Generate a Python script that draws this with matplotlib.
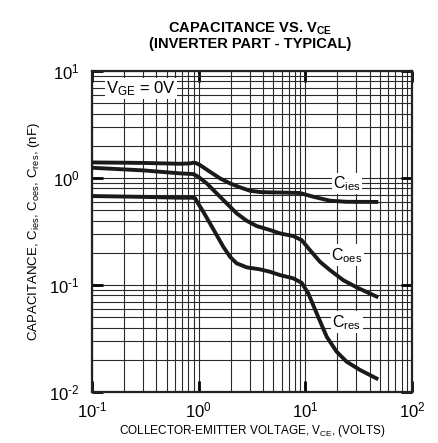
import numpy as np
import matplotlib.pyplot as plt
from matplotlib.ticker import LogLocator, NullFormatter, FuncFormatter

plt.rcParams['font.family'] = ['Liberation Sans', 'DejaVu Sans']
plt.rcParams['mathtext.fontset'] = 'custom'
plt.rcParams['mathtext.rm'] = 'Liberation Sans'
plt.rcParams['mathtext.it'] = 'Liberation Sans:italic'
plt.rcParams['mathtext.bf'] = 'Liberation Sans:bold'
plt.rcParams['axes.unicode_minus'] = False

# Valeurs (V_CE en volts, capacités en nF)
v_ies = [0.1, 0.3, 0.668, 0.829, 0.891, 0.924, 0.958, 1.029, 1.277, 1.585, 1.967, 2.441,
         3.03, 3.76, 4.66, 5.79, 8.91, 11.87, 17.03, 24.43, 48.3]
c_ies = [1.40, 1.385, 1.36, 1.37, 1.39, 1.39, 1.37, 1.323, 1.145, 0.994, 0.892, 0.819,
         0.761, 0.740, 0.735, 0.733, 0.725, 0.669, 0.614, 0.600, 0.598]

v_oes = [0.1, 0.3, 0.668, 0.891, 0.992, 1.19, 1.476, 1.831, 2.273, 2.821, 3.50, 4.66,
         5.79, 7.71, 9.24, 11.06, 13.73, 17.03, 22.70, 30.30, 48.3]
c_oes = [1.248, 1.18, 1.106, 1.09, 1.028, 0.892, 0.719, 0.580, 0.468, 0.399, 0.356, 0.327,
         0.304, 0.287, 0.263, 0.212, 0.165, 0.138, 0.111, 0.0952, 0.0767]

v_res = [0.1, 0.3, 0.668, 0.86, 0.924, 0.958, 1.105, 1.277, 1.476, 1.702, 1.967, 2.273,
         2.821, 3.76, 4.66, 5.79, 7.71, 9.24, 10.66, 12.78, 15.86, 19.68, 24.43, 32.55, 48.3]
c_res = [0.679, 0.667, 0.655, 0.655, 0.65, 0.61, 0.484, 0.377, 0.293, 0.228, 0.184, 0.1595,
         0.1464, 0.1402, 0.1331, 0.124, 0.1155, 0.105, 0.0836, 0.0544, 0.0329, 0.0238, 0.0192,
         0.0161, 0.01315]


def puissance(val, pos):
    e = int(round(np.log10(val)))
    expo = r'\text{-}' + str(-e) if e < 0 else str(e)
    return r'$\mathregular{10^{' + expo + '}}$'


fig = plt.figure(figsize=(4.38, 4.43), dpi=100)
ax = fig.add_axes([0.210, 0.115, 0.7306, 0.7246])

ax.set_xscale('log')
ax.set_yscale('log')
ax.set_xlim(0.1, 100)
ax.set_ylim(0.01, 10)

# Grille (décades + sous-graduations 2..9)
ax.xaxis.set_minor_locator(LogLocator(base=10, subs=np.arange(2, 10)))
ax.yaxis.set_minor_locator(LogLocator(base=10, subs=np.arange(2, 10)))
ax.xaxis.set_minor_formatter(NullFormatter())
ax.yaxis.set_minor_formatter(NullFormatter())
ax.xaxis.set_major_formatter(FuncFormatter(puissance))
ax.yaxis.set_major_formatter(FuncFormatter(puissance))
ax.grid(which='both', color='#2a2a2a', linewidth=0.8)
ax.set_axisbelow(True)

ax.tick_params(which='major', direction='in', length=8, width=2,
               top=True, right=True, labelsize=12)
ax.tick_params(axis='x', which='major', pad=6)
ax.tick_params(axis='y', which='major', pad=9)
ax.tick_params(which='minor', length=0)
for s in ax.spines.values():
    s.set_linewidth(1.6)
    s.set_color('#222222')

# Courbes
for v, c in [(v_ies, c_ies), (v_oes, c_oes), (v_res, c_res)]:
    ax.plot(v, c, color='#1a1a1a', linewidth=2.8, solid_joinstyle='round',
            solid_capstyle='butt', zorder=3)

# Étiquettes des courbes
box = dict(facecolor='white', edgecolor='none', pad=1)
ax.text(24.5, 0.89, r'C$_{\mathregular{ies}}$', fontsize=11.5, ha='center', va='center', bbox=box, zorder=4)
ax.text(24.5, 0.19, r'C$_{\mathregular{oes}}$', fontsize=11.5, ha='center', va='center', bbox=box, zorder=4)
ax.text(24.5, 0.045, r'C$_{\mathregular{res}}$', fontsize=11.5, ha='center', va='center', bbox=box, zorder=4)
ax.text(0.135, 6.9, r'V$_{\mathregular{GE}}$ = 0V', fontsize=12, ha='left', va='center',
        bbox=dict(facecolor='white', edgecolor='none', pad=1), zorder=4)

ax.set_xlabel(r'COLLECTOR-EMITTER VOLTAGE, V$_{\mathregular{CE}}$, (VOLTS)', fontsize=8.5, labelpad=2)
ax.set_ylabel(r'CAPACITANCE, C$_{\mathregular{ies}}$, C$_{\mathregular{oes}}$, C$_{\mathregular{res}}$, (nF)',
              fontsize=9.5, labelpad=5)

fig.text(0.571, 0.936, r'CAPACITANCE VS. V$_{\mathbf{CE}}$', fontsize=10.5, fontweight='bold',
         ha='center', va='center')
fig.text(0.571, 0.901, '(INVERTER PART - TYPICAL)', fontsize=10.5, fontweight='bold',
         ha='center', va='center')

fig.savefig('out.png', dpi=100)
